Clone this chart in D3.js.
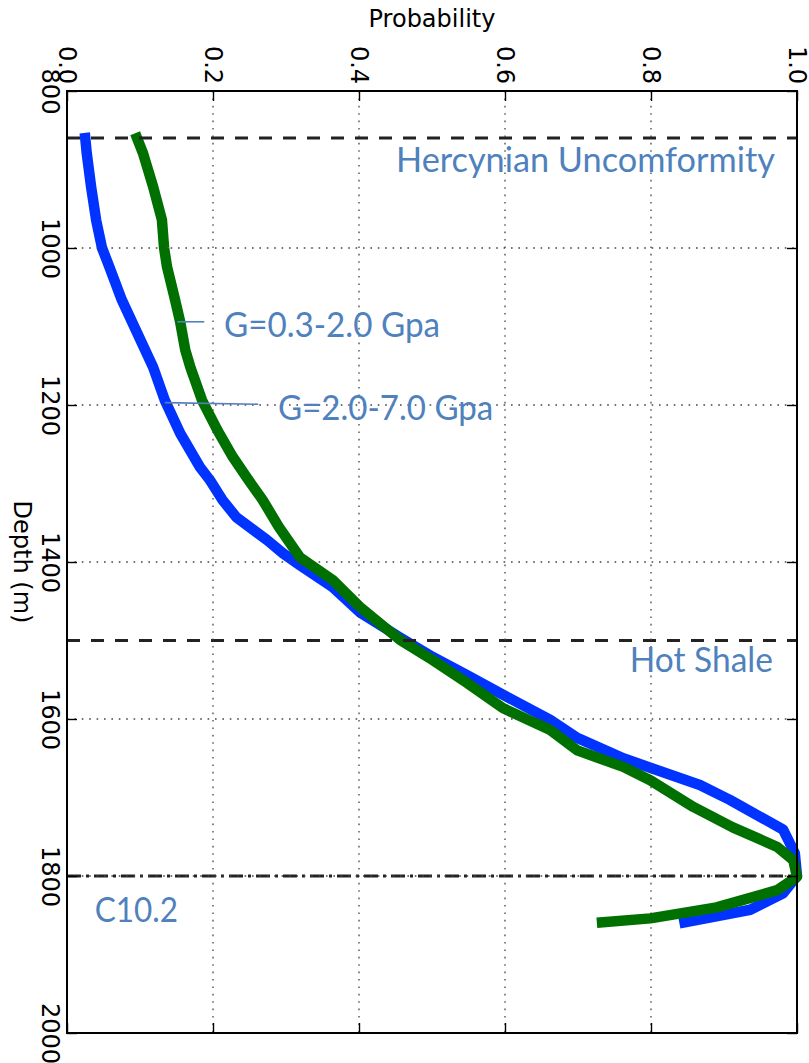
<!DOCTYPE html>
<html><head><meta charset="utf-8">
<script src="https://cdn.jsdelivr.net/npm/d3@7/dist/d3.min.js"></script>
<style>body{margin:0;background:#fff}svg{display:block}</style>
</head><body><svg id="chart" width="809" height="1063"></svg>
<script>
// ---- data ----
const xTicks = [0.0, 0.2, 0.4, 0.6, 0.8, 1.0];
const yTicks = [800, 1000, 1200, 1400, 1600, 1800, 2000];

const blueDepth = [860, 879, 922, 965, 1000, 1024, 1066, 1108, 1152, 1194, 1236, 1279, 1296, 1321, 1343, 1372, 1389, 1404, 1432, 1464, 1496, 1521, 1544, 1569, 1601, 1624, 1650, 1662, 1684, 1703, 1741, 1771, 1800, 1822, 1843, 1859];
const blueProb  = [0.025, 0.027, 0.033, 0.040, 0.048, 0.058, 0.075, 0.096, 0.118, 0.134, 0.155, 0.182, 0.196, 0.213, 0.232, 0.274, 0.296, 0.319, 0.364, 0.401, 0.456, 0.501, 0.548, 0.597, 0.662, 0.699, 0.762, 0.799, 0.867, 0.908, 0.981, 0.997, 1.0, 0.981, 0.936, 0.846];

const greenDepth = [860, 879, 922, 964, 1000, 1024, 1066, 1094, 1130, 1152, 1194, 1232, 1266, 1292, 1321, 1355, 1394, 1423, 1457, 1499, 1525, 1554, 1586, 1614, 1640, 1661, 1678, 1712, 1738, 1763, 1780, 1801, 1818, 1840, 1854, 1859];
const greenProb  = [0.096, 0.104, 0.118, 0.130, 0.133, 0.137, 0.148, 0.155, 0.162, 0.169, 0.185, 0.206, 0.227, 0.246, 0.268, 0.290, 0.319, 0.364, 0.401, 0.456, 0.501, 0.548, 0.597, 0.662, 0.699, 0.762, 0.799, 0.858, 0.912, 0.973, 0.995, 1.0, 0.973, 0.890, 0.799, 0.733];

const horizonDepths = [860, 1500, 1800];
const horizonStyles = ["dashed", "dashed", "dashdot"];

const annotationTexts = ["Hercynian Uncomformity", "Hot Shale", "C10.2", "G=0.3-2.0 Gpa", "G=2.0-7.0 Gpa"];

// ---- layout ----
const W = 809, H = 1063;
const plot = {left: 67, right: 797, top: 91, bottom: 1033};
const svg = d3.select("#chart");
const x = d3.scaleLinear().domain([0, 1]).range([plot.left, plot.right]);
const y = d3.scaleLinear().domain([800, 2000]).range([plot.top, plot.bottom]);
const tickFont = "DejaVu Sans";
const annColor = "#4f81bd";

svg.append("rect").attr("width", W).attr("height", H).attr("fill", "#fff");

// curves
const line = d3.line().x(d => x(d[1])).y(d => y(d[0])).curve(d3.curveLinear);
const blue = blueDepth.map((d, i) => [d, blueProb[i]]);
const green = greenDepth.map((d, i) => [d, greenProb[i]]);
const g = svg.append("g");
g.append("path").datum(blue).attr("d", line).attr("fill", "none")
  .attr("stroke", "#0033ff").attr("stroke-width", 10.5)
  .attr("stroke-linejoin", "round").attr("stroke-linecap", "square");
g.append("path").datum(green).attr("d", line).attr("fill", "none")
  .attr("stroke", "#007000").attr("stroke-width", 10.5)
  .attr("stroke-linejoin", "round").attr("stroke-linecap", "square");

// horizon lines
horizonDepths.forEach((d, i) => {
  svg.append("line").attr("x1", x(0)).attr("x2", x(1)).attr("y1", y(d)).attr("y2", y(d))
    .attr("stroke", "#222").attr("stroke-width", 3)
    .attr("stroke-dasharray", horizonStyles[i] === "dashed" ? "13,11" : "14,5,3,5");
});

// grid (dotted) on top
const grid = svg.append("g").attr("stroke", "#444").attr("stroke-width", 1.3).attr("stroke-dasharray", "1.6,5.8");
xTicks.slice(1, -1).forEach(t => grid.append("line").attr("x1", x(t)).attr("x2", x(t)).attr("y1", plot.top).attr("y2", plot.bottom));
yTicks.slice(1, -1).forEach(t => grid.append("line").attr("x1", plot.left).attr("x2", plot.right).attr("y1", y(t)).attr("y2", y(t)));

// axes with inward ticks
const axTop = svg.append("g").attr("transform", `translate(0,${plot.top})`)
  .call(d3.axisTop(x).tickValues(xTicks).tickSize(-10).tickFormat(d3.format(".1f")));
const axBottom = svg.append("g").attr("transform", `translate(0,${plot.bottom})`)
  .call(d3.axisBottom(x).tickValues(xTicks).tickSize(-10).tickFormat(""));
const axLeft = svg.append("g").attr("transform", `translate(${plot.left},0)`)
  .call(d3.axisLeft(y).tickValues(yTicks).tickSize(-10).tickFormat(d3.format("d")));
const axRight = svg.append("g").attr("transform", `translate(${plot.right},0)`)
  .call(d3.axisRight(y).tickValues(yTicks).tickSize(-10).tickFormat(""));
[axTop, axBottom, axLeft, axRight].forEach(a => {
  a.select(".domain").remove();
  a.selectAll(".tick line").attr("stroke", "#000").attr("stroke-width", 1.4);
});
// rotate tick labels 90deg clockwise
axTop.selectAll(".tick text")
  .attr("font-family", tickFont).attr("font-size", 24).attr("fill", "#000")
  .attr("text-anchor", "middle").attr("dy", null)
  .attr("transform", "translate(-9,-26) rotate(90)").attr("x", 0).attr("y", 0);
axLeft.selectAll(".tick text")
  .attr("font-family", tickFont).attr("font-size", 24).attr("fill", "#000")
  .attr("text-anchor", "middle").attr("dy", null)
  .attr("transform", "translate(-25,0) rotate(90)").attr("x", 0).attr("y", 0);

// frame
svg.append("rect").attr("x", plot.left).attr("y", plot.top)
  .attr("width", plot.right - plot.left).attr("height", plot.bottom - plot.top)
  .attr("fill", "none").attr("stroke", "#000").attr("stroke-width", 2);

// axis titles
svg.append("text").attr("x", (plot.left + plot.right) / 2).attr("y", 27)
  .attr("text-anchor", "middle").attr("font-family", tickFont).attr("font-size", 24)
  .text("Probability");
svg.append("text").attr("transform", `translate(14,${(plot.top + plot.bottom) / 2}) rotate(90)`)
  .attr("text-anchor", "middle").attr("font-family", tickFont).attr("font-size", 24)
  .text("Depth (m)");

// annotations (placed in data coordinates)
const annPos = [
  {p: 0.4507, d: 903, w: 0.519},
  {p: 0.771, d: 1540, w: 0.196},
  {p: 0.038, d: 1859, w: 0.114},
  {p: 0.215, d: 1113, w: 0.296},
  {p: 0.289, d: 1219, w: 0.295}
];
annotationTexts.forEach((t, i) => {
  const a = annPos[i];
  svg.append("text").attr("x", x(a.p)).attr("y", y(a.d))
    .attr("font-family", "Lato, 'Open Sans', sans-serif").attr("font-size", 34)
    .attr("fill", annColor)
    .attr("textLength", x(a.w) - x(0)).attr("lengthAdjust", "spacingAndGlyphs")
    .text(t);
});
// leader lines
const leaders = [
  {p1: 0.151, p2: 0.188, d1: 1094, d2: 1094},
  {p1: 0.134, p2: 0.262, d1: 1197, d2: 1199}
];
leaders.forEach(l => svg.append("line").attr("x1", x(l.p1)).attr("x2", x(l.p2))
  .attr("y1", y(l.d1)).attr("y2", y(l.d2)).attr("stroke", annColor).attr("stroke-width", 1.6));
</script></body></html>
